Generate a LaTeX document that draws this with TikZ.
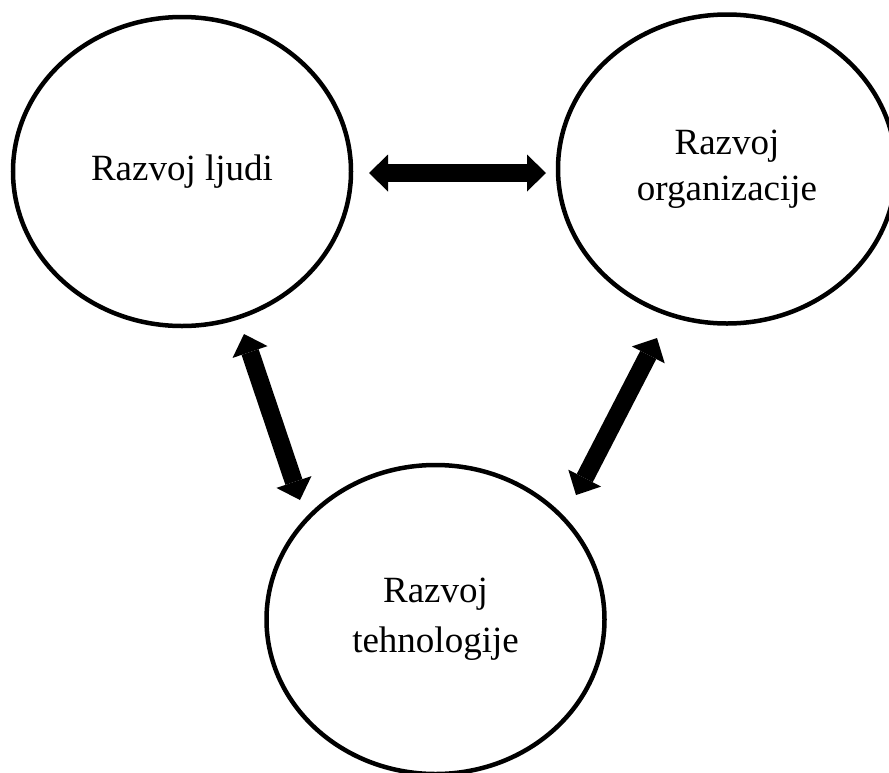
\documentclass[tikz,border=0pt]{standalone}
\usepackage{fontspec}
\setmainfont{Liberation Serif}
\usetikzlibrary{shapes.geometric,arrows.meta}
\begin{document}
\begin{tikzpicture}[x=1pt,y=-1pt,
  area/.style={ellipse, draw=black, line width=4.5pt, inner sep=0pt, align=center,
    minimum width=338pt, minimum height=309pt,
    font=\fontsize{37}{46}\selectfont},
  fat tip/.tip={Triangle[width=37pt,length=19pt,line width=0pt]},
  link/.style={line width=18pt, fat tip-fat tip}
]
\useasboundingbox (0,0) rectangle (889,772);
\clip (0,0) rectangle (889,772);

% the three areas of development
\node[area] (ljudi) at (182,171.5) {Razvoj ljudi};
\node[area] (org) at (727,169) {Razvoj\\organizacije};
\node[area] (teh) at (435.5,619.5) {Razvoj\\[4pt]tehnologije};

% arrow tip positions between the areas
\coordinate (lj-org) at (369,173);
\coordinate (org-lj) at (546,173);
\coordinate (lj-teh) at (244,334);
\coordinate (teh-lj) at (300,500);
\coordinate (org-teh) at (657,338);
\coordinate (teh-org) at (576,495);

% mutual influences
\draw[link] (lj-org) -- (org-lj);
\draw[link] (lj-teh) -- (teh-lj);
\draw[link] (org-teh) -- (teh-org);
\end{tikzpicture}
\end{document}
